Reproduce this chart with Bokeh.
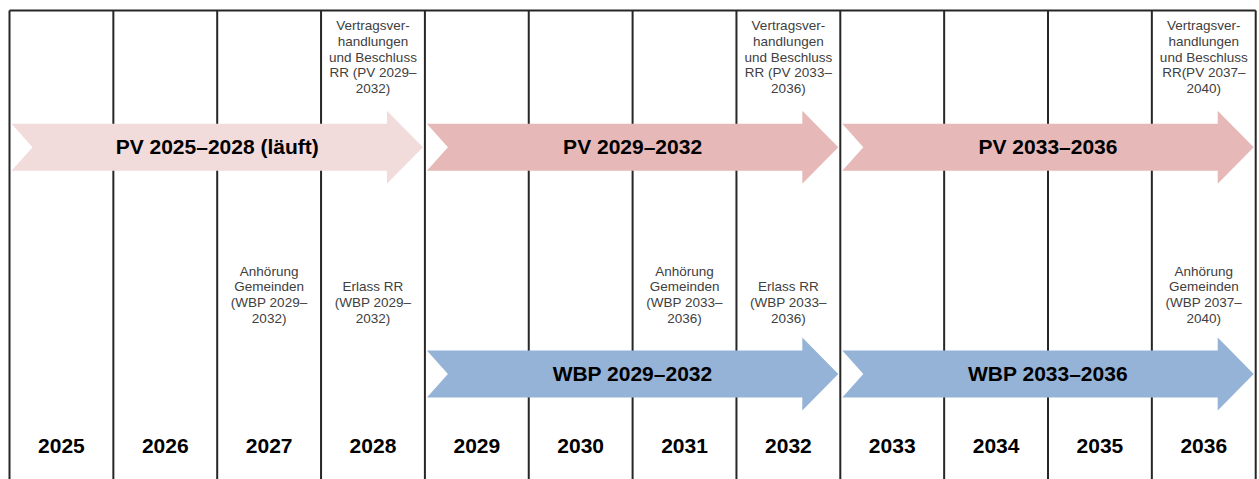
from bokeh.plotting import figure
from bokeh.models import Range1d
from bokeh.core.properties import value
from bokeh.embed import file_html
from bokeh.resources import INLINE

# ---------------- data ----------------
years = list(range(2025, 2037))
pv_starts = [2025, 2029, 2033]
pv_ends = [2028, 2032, 2036]
pv_labels = ["PV 2025–2028 (läuft)", "PV 2029–2032", "PV 2033–2036"]
pv_colors = ["#f2dcdb", "#e6b9b8", "#e6b9b8"]
wbp_starts = [2029, 2033]
wbp_ends = [2032, 2036]
wbp_labels = ["WBP 2029–2032", "WBP 2033–2036"]
wbp_colors = ["#95b3d7", "#95b3d7"]
top_note_years = [2028, 2032, 2036]
top_notes = [
    "Vertragsver-\nhandlungen\nund Beschluss\nRR (PV 2029–\n2032)",
    "Vertragsver-\nhandlungen\nund Beschluss\nRR (PV 2033–\n2036)",
    "Vertragsver-\nhandlungen\nund Beschluss\nRR(PV 2037–\n2040)",
]
bottom_note_years = [2027, 2028, 2031, 2032, 2036]
bottom_notes = [
    "Anhörung\nGemeinden\n(WBP 2029–\n2032)",
    "Erlass RR\n(WBP 2029–\n2032)",
    "Anhörung\nGemeinden\n(WBP 2033–\n2036)",
    "Erlass RR\n(WBP 2033–\n2036)",
    "Anhörung\nGemeinden\n(WBP 2037–\n2040)",
]

# ---------------- layout ----------------
W, H = 1259, 479
PX = 103.85   # pixels per year
X0 = 9        # pixel of first column boundary
FONT = "Liberation Sans"

p = figure(width=W, height=H, output_backend="svg", toolbar_location=None,
           x_axis_type=None, y_axis_type=None,
           x_range=Range1d(years[0] - X0 / PX, years[0] + (W - X0) / PX),
           y_range=Range1d(H, 0),
           min_border=0, min_border_left=0, min_border_right=0,
           min_border_top=0, min_border_bottom=0)
p.outline_line_color = None
p.grid.visible = False
p.background_fill_color = "white"
p.border_fill_color = "white"

# grid lines of the timeline
bounds = years + [years[-1] + 1]
LINE = "#262626"
TOP = 10
p.segment(x0=bounds, x1=bounds, y0=[TOP] * len(bounds), y1=[H] * len(bounds),
          line_color=LINE, line_width=2)
p.segment(x0=[bounds[0]], x1=[bounds[-1]], y0=[TOP], y1=[TOP],
          line_color=LINE, line_width=2)


def arrows(starts, ends, yc, color_list):
    xs, ys = [], []
    head = 36 / PX
    notch = 21 / PX
    bh, hh = 23.5, 36.5
    for s, e in zip(starts, ends):
        x0 = s + 2 / PX
        x1 = e + 1 - 2 / PX
        xs.append([x0, x1 - head, x1 - head, x1, x1 - head, x1 - head, x0, x0 + notch])
        ys.append([yc - bh, yc - bh, yc - hh, yc, yc + hh, yc + bh, yc + bh, yc])
    p.patches(xs=xs, ys=ys, fill_color=color_list, line_color=None)
    return [((s + 2 / PX) + (e + 1 - 2 / PX)) / 2 for s, e in zip(starts, ends)]


pv_y = 146.7
wbp_y = 373.5
pv_cx = arrows(pv_starts, pv_ends, pv_y, pv_colors)
wbp_cx = arrows(wbp_starts, wbp_ends, wbp_y, wbp_colors)

BIG = "21px"
p.text(x=pv_cx, y=[146] * len(pv_cx), text=pv_labels,
       text_font=value(FONT), text_font_size=BIG, text_font_style="bold",
       text_align="center", text_baseline="middle", text_color="black")
p.text(x=wbp_cx, y=[373.3] * len(wbp_cx), text=wbp_labels,
       text_font=value(FONT), text_font_size=BIG, text_font_style="bold",
       text_align="center", text_baseline="middle", text_color="black")

# year labels
p.text(x=[y + 0.5 for y in years], y=[445.8] * len(years), text=[str(y) for y in years],
       text_font=value(FONT), text_font_size=BIG, text_font_style="bold",
       text_align="center", text_baseline="middle", text_color="black")

# notes
LH = 15.8
nx, ny, nt = [], [], []
for yr, note in zip(top_note_years, top_notes):
    for i, line in enumerate(note.split("\n")):
        nx.append(yr + 0.5)
        ny.append(25 + i * LH)
        nt.append(line)
for yr, note in zip(bottom_note_years, bottom_notes):
    lines = note.split("\n")
    n = len(lines)
    for i, line in enumerate(lines):
        nx.append(yr + 0.5)
        ny.append(318 - (n - 1 - i) * LH)
        nt.append(line)
p.text(x=nx, y=ny, text=nt, text_font=value(FONT), text_font_size="13.5px",
       text_align="center", text_baseline="middle", text_color="#404040")

open("out.html", "w").write(file_html(p, INLINE))
